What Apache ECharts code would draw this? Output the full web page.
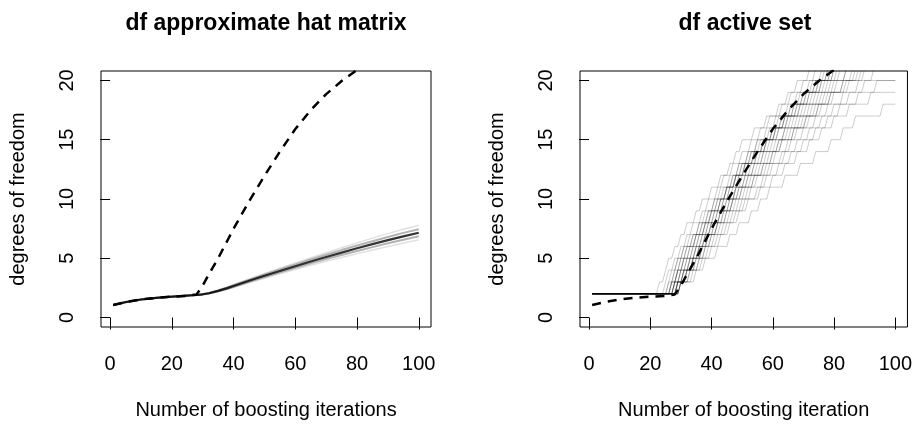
<!DOCTYPE html>
<html>
<head>
<meta charset="utf-8">
<script src="https://cdn.jsdelivr.net/npm/echarts@6/dist/echarts.min.js"></script>
<style>
  html, body { margin: 0; padding: 0; background: #fff; }
  #chart { width: 915px; height: 425px; }
</style>
</head>
<body>
<div id="chart"></div>
<script>
/* data */
const iterations = [1, 5, 10, 15, 20, 25, 28, 30, 32, 35, 38, 40, 45, 50, 55, 60, 65, 70, 75, 80, 85, 90, 95, 100];
const dfDashed   = [1.06, 1.30, 1.52, 1.66, 1.76, 1.83, 1.95, 2.70, 3.65, 5.00, 6.50, 7.50, 9.80, 11.95, 14.0, 15.9, 17.5, 18.85, 19.95, 20.9, 21.8, 22.6, 23.4, 24.2];

// approximate hat matrix: centre of the bundle and its spread
const hatCenter = [1.06, 1.30, 1.52, 1.66, 1.76, 1.85, 1.90, 1.96, 2.05, 2.25, 2.48, 2.66, 3.10, 3.52, 3.93, 4.33, 4.73, 5.11, 5.48, 5.84, 6.19, 6.53, 6.85, 7.15];
const hatUpper1 = [1.06, 1.30, 1.52, 1.66, 1.76, 1.85, 1.90, 1.97, 2.07, 2.29, 2.53, 2.72, 3.18, 3.62, 4.05, 4.47, 4.89, 5.29, 5.69, 6.07, 6.44, 6.80, 7.14, 7.45];
const hatLower1 = [1.06, 1.30, 1.52, 1.66, 1.76, 1.85, 1.90, 1.95, 2.03, 2.21, 2.43, 2.60, 3.02, 3.42, 3.81, 4.19, 4.57, 4.93, 5.27, 5.61, 5.94, 6.26, 6.56, 6.85];
const hatUpper2 = [1.06, 1.30, 1.52, 1.66, 1.76, 1.85, 1.90, 1.98, 2.09, 2.33, 2.58, 2.78, 3.26, 3.72, 4.17, 4.61, 5.05, 5.47, 5.89, 6.30, 6.70, 7.08, 7.44, 7.78];
const hatLower2 = [1.06, 1.30, 1.52, 1.66, 1.76, 1.85, 1.90, 1.94, 2.01, 2.17, 2.38, 2.54, 2.94, 3.32, 3.69, 4.05, 4.41, 4.75, 5.07, 5.39, 5.70, 6.00, 6.28, 6.55];

// active set: iteration at which each run reaches df = 3, 4, 5, ...
const stepJumps = [
  [23, 25, 26, 28, 30, 32, 35, 37, 40, 43, 46, 48, 50, 54, 58, 62, 65, 68, 72],
  [25, 26, 28, 30, 32, 34, 37, 39, 42, 44, 47, 50, 53, 56, 59, 63, 66, 70, 74],
  [26, 27, 29, 31, 34, 36, 39, 41, 44, 47, 49, 52, 55, 59, 62, 66, 69, 73, 77],
  [26, 28, 29, 31, 33, 36, 38, 41, 43, 46, 49, 52, 55, 58, 61, 65, 68, 72, 76],
  [27, 28, 30, 32, 34, 37, 39, 42, 45, 47, 50, 53, 57, 60, 63, 67, 70, 74, 78],
  [27, 29, 30, 32, 35, 38, 40, 43, 45, 48, 51, 54, 58, 61, 64, 68, 71, 75, 79],
  [27, 29, 31, 33, 35, 37, 40, 42, 45, 48, 50, 53, 56, 60, 63, 66, 70, 74, 78],
  [27, 29, 31, 34, 36, 38, 41, 43, 46, 48, 51, 54, 57, 60, 64, 67, 71, 75, 79],
  [28, 29, 31, 33, 35, 38, 40, 43, 45, 48, 51, 54, 57, 61, 65, 69, 72, 76, 80],
  [28, 30, 32, 34, 36, 39, 41, 44, 46, 49, 52, 55, 58, 61, 64, 68, 72, 76, 80],
  [28, 30, 32, 35, 37, 39, 42, 44, 47, 49, 52, 55, 58, 62, 65, 69, 73, 77, 81],
  [28, 30, 33, 35, 38, 40, 43, 45, 48, 51, 54, 57, 61, 64, 68, 72, 76, 80, 84],
  [28, 31, 33, 35, 37, 40, 42, 45, 48, 50, 53, 56, 59, 62, 66, 70, 74, 78, 82],
  [29, 31, 33, 36, 38, 40, 43, 46, 48, 51, 54, 57, 60, 64, 67, 71, 75, 79, 84],
  [29, 31, 34, 36, 38, 41, 43, 46, 49, 52, 55, 58, 62, 66, 70, 74, 78, 83, 88],
  [29, 31, 34, 37, 39, 42, 45, 47, 50, 53, 57, 60, 63, 67, 71, 75, 79, 83, 87],
  [29, 32, 34, 36, 39, 41, 44, 47, 49, 52, 56, 59, 62, 65, 69, 73, 77, 81, 86],
  [29, 32, 34, 37, 39, 42, 44, 47, 50, 54, 57, 60, 63, 67, 71, 75, 79, 84, 89],
  [29, 32, 35, 37, 40, 43, 45, 48, 51, 54, 58, 61, 65, 68, 72, 76, 80, 85, 90],
  [30, 32, 35, 38, 40, 42, 46, 49, 52, 55, 59, 63, 66, 70, 74, 78, 83, 88, 93],
  [30, 33, 36, 38, 42, 45, 48, 51, 55, 58, 62, 66, 70, 74, 78, 82, 88, 94],
  [30, 33, 36, 39, 41, 44, 47, 50, 53, 57, 60, 64, 68, 72, 76, 80, 85, 90],
  [30, 34, 37, 40, 43, 46, 49, 52, 56, 60, 64, 68, 72, 76, 80, 85, 92],
  [30, 35, 38, 42, 46, 49, 53, 56, 59, 64, 69, 74, 79, 83, 87, 96]
];

const xTicks = [0, 20, 40, 60, 80, 100];
const yTicks = [0, 5, 10, 15, 20];
const titles = ['df approximate hat matrix', 'df active set'];
const xNames = ['Number of boosting iterations', 'Number of boosting iteration'];
const yName = 'degrees of freedom';

const font = 'Liberation Sans, Arial, sans-serif';
const chart = echarts.init(document.getElementById('chart'));

const pairs = vals => iterations.map((x, i) => [x, vals[i]]);

// each run is flat at df = 2, then climbs one step per jump
function stepLine(jumps) {
  const pts = [[1, 2]];
  jumps.forEach((t, i) => {
    pts.push([t - 1, i + 2], [t, i + 3]);
  });
  pts.push([100, jumps.length + 2]);
  return pts;
}

function xAxisFor(i) {
  return {
    type: 'value', gridIndex: i, min: -2.96, max: 103.96,
    name: xNames[i], nameLocation: 'middle', nameGap: 73,
    nameTextStyle: { fontSize: 20, fontFamily: font, color: '#000' },
    axisLine: { show: false },
    axisTick: { show: true, inside: false, length: 12, customValues: xTicks, lineStyle: { color: '#000' } },
    axisLabel: { customValues: xTicks, margin: 27, fontSize: 20, fontFamily: font, color: '#000' },
    splitLine: { show: false }
  };
}

function yAxisFor(i) {
  return {
    type: 'value', gridIndex: i, min: -0.8, max: 20.8,
    name: yName, nameLocation: 'middle', nameGap: 73, nameRotate: 90,
    nameTextStyle: { fontSize: 20, fontFamily: font, color: '#000' },
    axisLine: { show: false },
    axisTick: { show: true, inside: false, length: 10, customValues: yTicks, lineStyle: { color: '#000' } },
    axisLabel: { customValues: yTicks, rotate: 90, margin: 24, fontSize: 20, fontFamily: font, color: '#000' },
    splitLine: { show: false }
  };
}

const base = { type: 'line', symbol: 'none', silent: true, animation: false };

const series = [
  { ...base, xAxisIndex: 0, yAxisIndex: 0, data: pairs(hatUpper2), lineStyle: { color: 'rgba(0,0,0,0.12)', width: 1.5 } },
  { ...base, xAxisIndex: 0, yAxisIndex: 0, data: pairs(hatLower2), lineStyle: { color: 'rgba(0,0,0,0.12)', width: 1.5 } },
  { ...base, xAxisIndex: 0, yAxisIndex: 0, data: pairs(hatUpper1), lineStyle: { color: 'rgba(0,0,0,0.3)', width: 2 } },
  { ...base, xAxisIndex: 0, yAxisIndex: 0, data: pairs(hatLower1), lineStyle: { color: 'rgba(0,0,0,0.3)', width: 2 } },
  { ...base, xAxisIndex: 0, yAxisIndex: 0, data: pairs(hatCenter), lineStyle: { color: 'rgba(0,0,0,0.8)', width: 2.2 } },
  { ...base, xAxisIndex: 0, yAxisIndex: 0, data: pairs(dfDashed), lineStyle: { color: '#000', width: 2.5, type: [9, 7] } }
];

stepJumps.forEach(j => {
  series.push({ ...base, xAxisIndex: 1, yAxisIndex: 1, data: stepLine(j), lineStyle: { color: 'rgba(0,0,0,0.2)', width: 1 } });
});
series.push({ ...base, xAxisIndex: 1, yAxisIndex: 1, data: pairs(dfDashed), lineStyle: { color: '#000', width: 2.5, type: [9, 7] } });

const option = {
  backgroundColor: '#fff',
  title: titles.map((t, i) => ({
    text: t, left: i === 0 ? 266 : 745, top: 12, textAlign: 'center', padding: 0,
    textStyle: { fontSize: 23, fontWeight: 'bold', fontFamily: font, color: '#000' }
  })),
  grid: [
    { left: 101, top: 71, width: 330, height: 258, show: true, borderColor: '#000', borderWidth: 1, backgroundColor: 'transparent' },
    { left: 580, top: 71, width: 330, height: 258, show: true, borderColor: '#000', borderWidth: 1, backgroundColor: 'transparent' }
  ],
  xAxis: [xAxisFor(0), xAxisFor(1)],
  yAxis: [yAxisFor(0), yAxisFor(1)],
  series
};

chart.setOption(option);
</script>
</body>
</html>
